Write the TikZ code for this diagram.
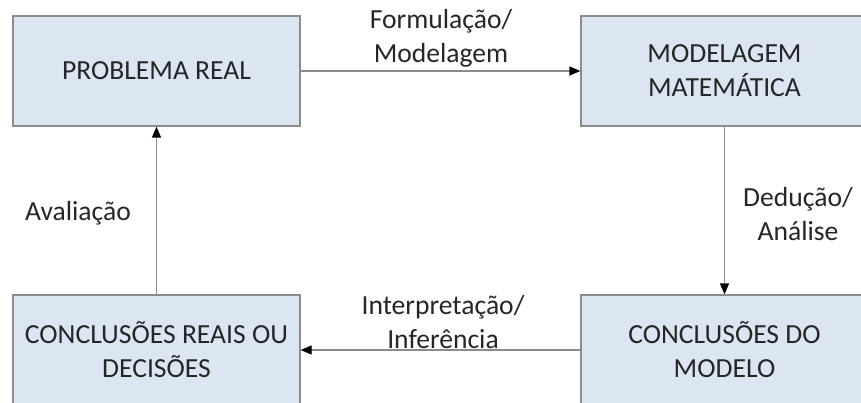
\documentclass[tikz,border=0pt]{standalone}
\usepackage{fontspec}
\setmainfont{Carlito}
\usetikzlibrary{arrows.meta}
\definecolor{boxfill}{HTML}{DCE6F2}
\definecolor{boxline}{HTML}{8C8C8C}
\definecolor{txt}{HTML}{262626}
\tikzset{
  etapa/.style={draw=boxline, line width=1.3pt, fill=boxfill, minimum width=287pt,
    minimum height=110pt, align=center, text=txt, inner sep=0pt},
  rotulo/.style={align=center, text=txt, inner sep=0pt},
  seta/.style={draw=boxline, line width=1.3pt, -{Triangle[length=11pt,width=9pt,color=black]}}
}
\begin{document}
\begin{tikzpicture}[x=1pt, y=-1pt, font=\fontsize{27.6}{34}\selectfont]
    \useasboundingbox (0,0) rectangle (861,403);
    \clip (0,0) rectangle (861,403);
    \node[etapa] (real) at (156.5,71) {PROBLEMA REAL};
    \node[etapa] (modelo) at (724.5,71) {MODELAGEM\\MATEMÁTICA};
    \node[etapa] (concmod) at (724.5,350) {CONCLUSÕES DO\\MODELO};
    \node[etapa] (concreal) at (156.5,350) {CONCLUSÕES REAIS OU\\DECISÕES};
    \draw[seta] (real) -- (modelo);
    \draw[seta] (modelo) -- (concmod);
    \draw[seta] (concmod) -- (concreal);
    \draw[seta] (concreal) -- (real);
    \node[rotulo] (formula) at (441,38) {Formulação/\\Modelagem};
    \node[rotulo] (deduz) at (798,214) {Dedução/\\Análise};
    \node[rotulo] (interp) at (443,322) {Interpretação/\\Inferência};
    \node[rotulo] (avalia) at (78,213) {Avaliação};
\end{tikzpicture}
\end{document}
